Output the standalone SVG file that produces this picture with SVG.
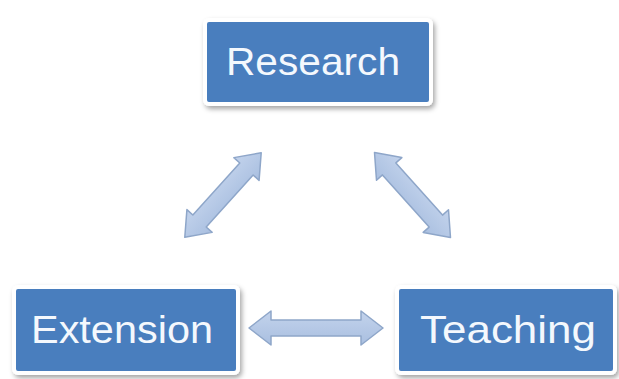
<svg xmlns="http://www.w3.org/2000/svg" width="619" height="379" viewBox="0 0 619 379">
<defs>
<filter id="sh" x="-10%" y="-10%" width="125%" height="130%">
<feDropShadow dx="2" dy="3" stdDeviation="2.5" flood-color="#000" flood-opacity="0.35"/>
</filter>
<linearGradient id="ag" x1="0" y1="0" x2="0" y2="1">
<stop offset="0" stop-color="#c3d3ec"/>
<stop offset="1" stop-color="#a9bfe0"/>
</linearGradient>
</defs>
<style>
.box{fill:#4a7ebe;stroke:#ffffff;stroke-width:4;filter:url(#sh)}
.lbl{fill:#f4f8fd;font-family:"Liberation Sans",Arial,sans-serif;font-size:39px;text-anchor:middle}
.arr{fill:url(#ag);stroke:#8ea6c9;stroke-width:1.5;stroke-linejoin:round}
</style>
<rect width="619" height="379" fill="#ffffff"/>
<g id="connectors">
<polygon class="arr" transform="translate(223,195) rotate(-47.9)" points="-57,0 -35,-17 -35,-9 35,-9 35,-17 57,0 35,17 35,9 -35,9 -35,17"/>
<polygon class="arr" transform="translate(412.5,195) rotate(48.2)" points="-57,0 -35,-17 -35,-9 35,-9 35,-17 57,0 35,17 35,9 -35,9 -35,17"/>
<polygon class="arr" transform="translate(316,328)" points="-67,0 -45,-17 -45,-8 45,-8 45,-17 67,0 45,17 45,8 -45,8 -45,17"/>
</g>
<g id="research">
<rect class="box" x="205" y="20" width="226" height="84" rx="4"/>
<text class="lbl" x="313" y="75" textLength="174" lengthAdjust="spacingAndGlyphs">Research</text>
</g>
<g id="extension">
<rect class="box" x="14" y="287" width="224" height="86" rx="4"/>
<text class="lbl" x="122" y="343" textLength="182" lengthAdjust="spacingAndGlyphs">Extension</text>
</g>
<g id="teaching">
<rect class="box" x="397" y="287" width="218" height="86" rx="4"/>
<text class="lbl" x="508" y="343" textLength="176" lengthAdjust="spacingAndGlyphs">Teaching</text>
</g>
</svg>
